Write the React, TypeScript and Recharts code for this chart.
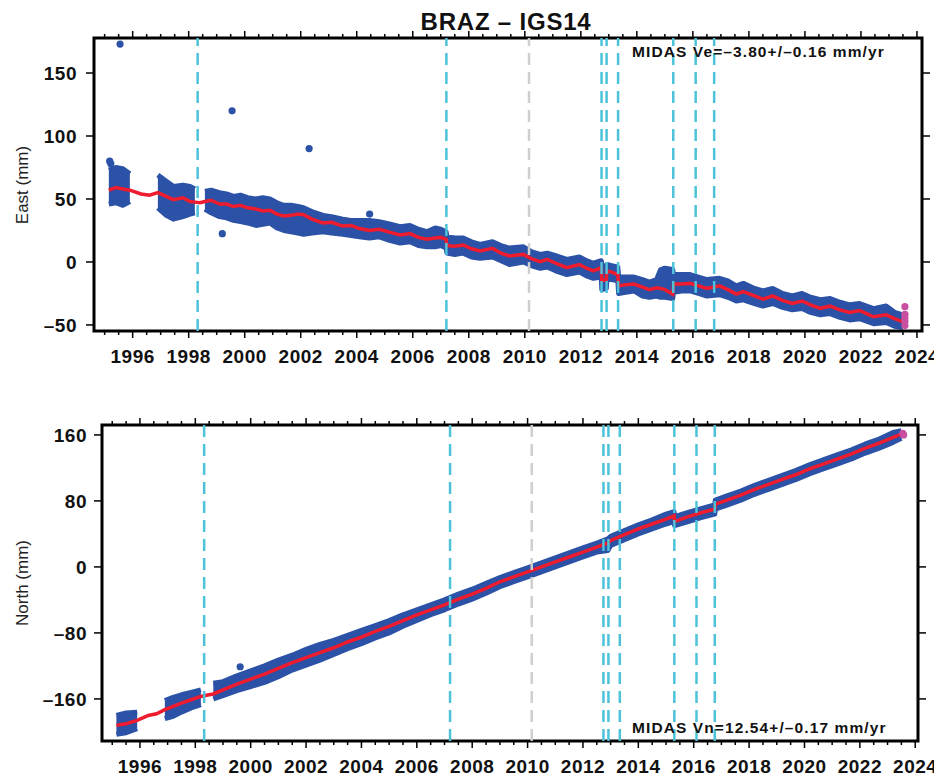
import React from 'react';
import { ComposedChart, Area, Line, Scatter, XAxis, YAxis, ReferenceLine, ReferenceArea } from 'recharts';

const FONT = '"Liberation Sans", Arial, Helvetica, sans-serif';

// epoch (decimal year) of the sampled points
const eastYears = [
  1995.15, 1995.4, 1995.65, 1995.9, 1996.3, 1996.6, 1996.9, 1997.2, 1997.45, 1997.8, 1998.05, 1998.22, 1998.4,
  1998.58, 1998.8, 1999.1, 1999.35, 1999.6, 1999.85, 2000.1, 2000.4, 2000.65, 2000.9, 2001.15, 2001.4, 2001.65,
  2001.9, 2002.1, 2002.4, 2002.8, 2003.1, 2003.5, 2003.8, 2004.1, 2004.45, 2004.8, 2005.2, 2005.55, 2005.9,
  2006.2, 2006.5, 2006.8, 2007.0, 2007.19, 2007.22, 2007.5, 2007.8, 2008.1, 2008.4, 2008.85, 2009.15, 2009.45,
  2009.95, 2010.25, 2010.55, 2010.8, 2011.1, 2011.5, 2011.95, 2012.2, 2012.45, 2012.73, 2012.75, 2012.91,
  2012.93, 2013.1, 2013.32, 2013.35, 2013.6, 2013.9, 2014.2, 2014.45, 2014.7, 2014.85, 2015.0, 2015.28,
  2015.31, 2015.6, 2015.9, 2016.2, 2016.5, 2016.95, 2017.25, 2017.55, 2017.8, 2018.2, 2018.5, 2018.85, 2019.2,
  2019.55, 2019.9, 2020.2, 2020.55, 2020.9, 2021.25, 2021.6, 2021.95, 2022.2, 2022.45, 2022.9, 2023.2, 2023.5,
];
// MIDAS model (red)
const eastModel = [
  57, 59, 58, 57, 54, 53, 55, 52, 49.5, 51, 48, 47.5, 47,
  48, 49, 46, 46, 44, 45, 43, 42, 40.5, 41, 38, 36.5, 37,
  38, 37.5, 34, 31, 31.5, 28.5, 29, 26.5, 25, 26, 23.5, 21.5, 22.5,
  19.5, 18, 19, 19.5, 18, 13, 12.5, 13.5, 10.5, 8.7, 10.8, 7, 4.8,
  6, 2.5, 0.3, 2, -1, -4.5, -2, -5, -7, -4.5, -15, -14,
  -7, -8, -10, -19, -18, -17.5, -20, -22, -20.5, -21, -22, -25.5,
  -17.5, -17.5, -17, -19, -21, -19, -22, -25.5, -23.5, -27, -29.5, -27, -30.5,
  -33, -31, -34, -36.8, -35, -38, -40, -38.5, -41, -43.5, -42, -45, -47.5,
];
// upper / lower edge of the daily solutions cloud (blue)
const eastHigh = [
  73, 75, 74, 70, null, null, 69, 64, 60, 61, 60, 58, null,
  56, 57, 55, 54, 52, 53, 51, 50, 51, 50, 47, 45, 45,
  44, 43, 40, 37, 36, 34, 33, 33, 33, 32, 30, 28, 29,
  26, 24, 27, 26, 24, 20, 19, 19, 16, 14, 16, 13, 11,
  12, 8, 6, 7, 5, 2, 4, 1, -1, 1, -3, -3,
  -2, -3, -4, -12, -12, -12, -14, -16, -14, -6, -5, -6,
  -10, -10, -10, -12, -14, -13, -15, -19, -17, -21, -23, -21, -25,
  -27, -25, -28, -30, -29, -32, -34, -33, -35, -37, -35, -40, -42,
];
const eastLow = [
  46, 47, 45, 48, null, null, 43, 37, 34, 36, 38, 39, null,
  42, 39, 36, 35, 33, 32, 31, 29, 30, 31, 27, 25, 24,
  23, 22, 23, 24, 23, 22, 21, 20, 19, 20, 17, 15, 16,
  13, 12, 12, 13, 11, 7, 6, 7, 4, 3, 4, 1, -2,
  0, -3, -5, -4, -7, -10, -8, -11, -13, -12, -22, -21,
  -13, -14, -15, -25, -24, -23, -27, -28, -27, -28, -28, -29,
  -24, -23, -23, -25, -27, -26, -28, -31, -30, -33, -35, -33, -36,
  -38, -37, -40, -42, -41, -44, -46, -45, -47, -49, -48, -51, -52,
];
const eastOutT = [1995.18, 1995.22, 1995.55, 1999.2, 1999.55, 2002.3, 2004.46];
const eastOutV = [80, 78, 173, 22.5, 120, 90, 38];
const eastLastT = [2023.57, 2023.57, 2023.57, 2023.57, 2023.57];
const eastLastV = [-35.5, -41.5, -44, -47, -50.5];

const northYears = [
  1995.15, 1995.5, 1995.9, 1996.3, 1996.6, 1996.9, 1997.2, 1997.5, 1997.85, 1998.2, 1998.4, 1998.65, 1999.0,
  1999.5, 2000.0, 2000.5, 2001.0, 2001.5, 2002.0, 2002.5, 2003.0, 2003.5, 2004.0, 2004.5, 2005.0, 2005.5,
  2006.0, 2006.5, 2007.0, 2007.5, 2008.0, 2008.5, 2009.0, 2009.5, 2010.0, 2010.5, 2011.0, 2011.5, 2012.0,
  2012.5, 2012.9, 2013.0, 2013.5, 2014.0, 2014.5, 2015.0, 2015.29, 2015.31, 2015.8, 2016.3, 2016.76, 2016.78,
  2017.2, 2017.7, 2018.2, 2018.7, 2019.2, 2019.7, 2020.2, 2020.7, 2021.2, 2021.7, 2022.2, 2022.7, 2023.2, 2023.5,
];
const northModel = [
  -192, -190, -186, -180, -178, -173, -169, -165, -161, -157, -155.5, -154, -149,
  -142, -136, -130, -123, -116, -110, -104, -98, -91, -85, -78, -72, -65,
  -58, -52, -46, -39, -33, -26, -18, -12, -6, 0, 6, 12, 18,
  24, 29, 32, 39, 46, 52, 58, 62, 55, 61, 66, 70, 76,
  81, 87, 94, 100, 106, 112, 119, 125, 131, 137, 144, 150, 157, 161,
];
const northHigh = [
  -180, -177, -176, null, null, -162, -158, -155, -152, -149, null, -141, -139,
  -132, -126, -120, -113, -107, -100, -94, -89, -83, -77, -71, -65, -58,
  -52, -46, -40, -33, -27, -20, -13, -7, -1, 5, 11, 17, 23,
  29, 34, 37, 44, 51, 57, 64, 67, 61, 66, 71, 75, 81,
  86, 92, 99, 105, 111, 117, 124, 130, 136, 142, 149, 155, 163, 165,
];
const northLow = [
  -203, -201, -196, null, null, -184, -181, -176, -171, -167, null, -160, -156,
  -150, -145, -140, -133, -125, -119, -113, -106, -99, -93, -86, -80, -72,
  -65, -58, -52, -45, -39, -32, -24, -18, -12, -6, 0, 6, 12,
  18, 20, 26, 33, 40, 46, 52, 55, 50, 55, 60, 64, 70,
  75, 81, 88, 94, 100, 106, 113, 119, 125, 131, 138, 144, 151, 156,
];
const northOutT = [1999.62];
const northOutV = [-121];
const northLastT = [2023.55, 2023.58];
const northLastV = [162, 160];

// equipment / offset epochs
const offsetYears = [1998.32, 2007.2, 2012.74, 2012.92, 2013.33, 2015.3, 2016.1, 2016.76];
const grayYear = 2010.15;

const yearTicks = Array.from({ length: 59 }, (_, i) => 1995 + i * 0.5);
const eastTicks = [-50, 0, 50, 100, 150];
const northTicks = [-160, -80, 0, 80, 160];

const BLUE = '#2b52a6';
const RED = '#ee1c2e';
const CYAN = '#4dc3d9';
const MAGENTA = '#c94fa0';

function XTick(props: any) {
  const { x, y, payload, top } = props;
  const major = payload.value % 2 === 0;
  const len = major ? 7 : 4;
  if (top) {
    return <line x1={x} x2={x} y1={y} y2={y - len} stroke="#000" strokeWidth={1.5} />;
  }
  return (
    <g>
      <line x1={x} x2={x} y1={y} y2={y + len} stroke="#000" strokeWidth={1.5} />
      {major && (
        <text x={x} y={y + 32} textAnchor="middle" fontFamily={FONT} fontWeight="bold" fontSize={19} letterSpacing={0.5} fill="#111">
          {payload.value}
        </text>
      )}
    </g>
  );
}

function YTick(props: any) {
  const { x, y, payload, right, gap } = props;
  if (right) {
    return <line x1={x} x2={x + 8} y1={y} y2={y} stroke="#000" strokeWidth={1.5} />;
  }
  const label = payload.value < 0 ? '\u2013' + Math.abs(payload.value) : String(payload.value);
  return (
    <g>
      <line x1={x} x2={x - 8} y1={y} y2={y} stroke="#000" strokeWidth={1.5} />
      <text x={x - gap} y={y} dy="0.36em" textAnchor="end" fontFamily={FONT} fontWeight="bold" fontSize={19} letterSpacing={0.5} fill="#111">
        {label}
      </text>
    </g>
  );
}

function Panel({ years, model, high, low, outT, outV, lastT, lastV, xDomain, yDomain, yTicks, width, height, margin, leftW, rightW, topH, bottomH, gap }: any) {
  const rows = years.map((t: number, i: number) => ({
    t,
    model: model[i],
    band: high[i] == null ? null : [low[i], high[i]],
  }));
  const outliers = outT.map((t: number, i: number) => ({ t, v: outV[i] }));
  const last = lastT.map((t: number, i: number) => ({ t, v: lastV[i] }));
  const dot = (color: string) => (p: any) => <circle cx={p.cx} cy={p.cy} r={3.6} fill={color} />;
  return (
    <ComposedChart width={width} height={height} data={rows} margin={margin}>
      <XAxis
        dataKey="t"
        type="number"
        domain={xDomain}
        allowDataOverflow
        ticks={yearTicks}
        interval={0}
        axisLine={false}
        tickLine={false}
        tickSize={0}
        tickMargin={0}
        height={bottomH}
        tick={(p: any) => <XTick {...p} />}
      />
      <XAxis
        xAxisId="top"
        orientation="top"
        dataKey="t"
        type="number"
        domain={xDomain}
        allowDataOverflow
        ticks={yearTicks}
        interval={0}
        axisLine={false}
        tickLine={false}
        tickSize={0}
        tickMargin={0}
        height={topH}
        tick={(p: any) => <XTick {...p} top />}
      />
      <YAxis
        type="number"
        domain={yDomain}
        allowDataOverflow
        ticks={yTicks}
        interval={0}
        axisLine={false}
        tickLine={false}
        tickSize={0}
        tickMargin={0}
        width={leftW}
        tick={(p: any) => <YTick {...p} gap={gap} />}
      />
      <YAxis
        yAxisId="right"
        orientation="right"
        type="number"
        domain={yDomain}
        allowDataOverflow
        ticks={yTicks}
        interval={0}
        axisLine={false}
        tickLine={false}
        tickSize={0}
        tickMargin={0}
        width={rightW}
        tick={(p: any) => <YTick {...p} right />}
      />
      <Area
        dataKey="band"
        type="linear"
        stroke={BLUE}
        strokeWidth={5}
        strokeLinejoin="round"
        fill={BLUE}
        fillOpacity={1}
        connectNulls={false}
        isAnimationActive={false}
      />
      <Scatter data={outliers} dataKey="v" shape={dot(BLUE)} isAnimationActive={false} />
      <Line dataKey="model" type="linear" stroke={RED} strokeWidth={3.5} dot={false} isAnimationActive={false} />
      <Scatter data={last} dataKey="v" shape={dot(MAGENTA)} isAnimationActive={false} />
      {offsetYears.map((yr) => (
        <ReferenceLine key={yr} x={yr} stroke={CYAN} strokeWidth={2.5} strokeDasharray="12 7" />
      ))}
      <ReferenceLine x={grayYear} stroke="#cfcfcf" strokeWidth={2.5} strokeDasharray="12 7" />
      <ReferenceArea x1={xDomain[0]} x2={xDomain[1]} y1={yDomain[0]} y2={yDomain[1]} fill="none" fillOpacity={0} stroke="#000" strokeWidth={3} />
    </ComposedChart>
  );
}

export default function App() {
  return (
    <div style={{ position: 'relative', left: -8, top: -8, width: 942, height: 778, background: '#fff' }}>
      <div style={{ position: 'absolute', left: 0, top: 0 }}>
        <Panel
          years={eastYears}
          model={eastModel}
          high={eastHigh}
          low={eastLow}
          outT={eastOutT}
          outV={eastOutV}
          lastT={eastLastT}
          lastV={eastLastV}
          xDomain={[1994.62, 2024.18]}
          yDomain={[-54.8, 177.8]}
          yTicks={eastTicks}
          width={942}
          height={390}
          margin={{ top: 28, right: 0, bottom: 19, left: 0 }}
          leftW={94}
          rightW={20}
          topH={10}
          bottomH={40}
          gap={17}
        />
      </div>
      <div style={{ position: 'absolute', left: 0, top: 390 }}>
        <Panel
          years={northYears}
          model={northModel}
          high={northHigh}
          low={northLow}
          outT={northOutT}
          outV={northOutV}
          lastT={northLastT}
          lastV={northLastV}
          xDomain={[1994.63, 2024.1]}
          yDomain={[-211, 172]}
          yTicks={northTicks}
          width={942}
          height={388}
          margin={{ top: 25, right: 0, bottom: 0, left: 0 }}
          leftW={102}
          rightW={24}
          topH={10}
          bottomH={37}
          gap={15}
        />
      </div>
      <svg width={942} height={778} style={{ position: 'absolute', left: 0, top: 0, pointerEvents: 'none' }}>
        <text x={506} y={30} textAnchor="middle" fontFamily={FONT} fontWeight="bold" fontSize={24} letterSpacing={0.8} fill="#111">
          BRAZ – IGS14
        </text>
        <text x={632} y={57} fontFamily={FONT} fontWeight="bold" fontSize={15.5} letterSpacing={1.1} fill="#111">
          MIDAS Ve=–3.80+/–0.16 mm/yr
        </text>
        <text x={632} y={733} fontFamily={FONT} fontWeight="bold" fontSize={15.5} letterSpacing={1.1} fill="#111">
          MIDAS Vn=12.54+/–0.17 mm/yr
        </text>
        <text x={22} y={185} transform="rotate(-90 22 185)" dy="0.35em" textAnchor="middle" fontFamily={FONT} fontSize={17} fill="#222">
          East (mm)
        </text>
        <text x={22} y={583} transform="rotate(-90 22 583)" dy="0.35em" textAnchor="middle" fontFamily={FONT} fontSize={17} fill="#222">
          North (mm)
        </text>
      </svg>
    </div>
  );
}
